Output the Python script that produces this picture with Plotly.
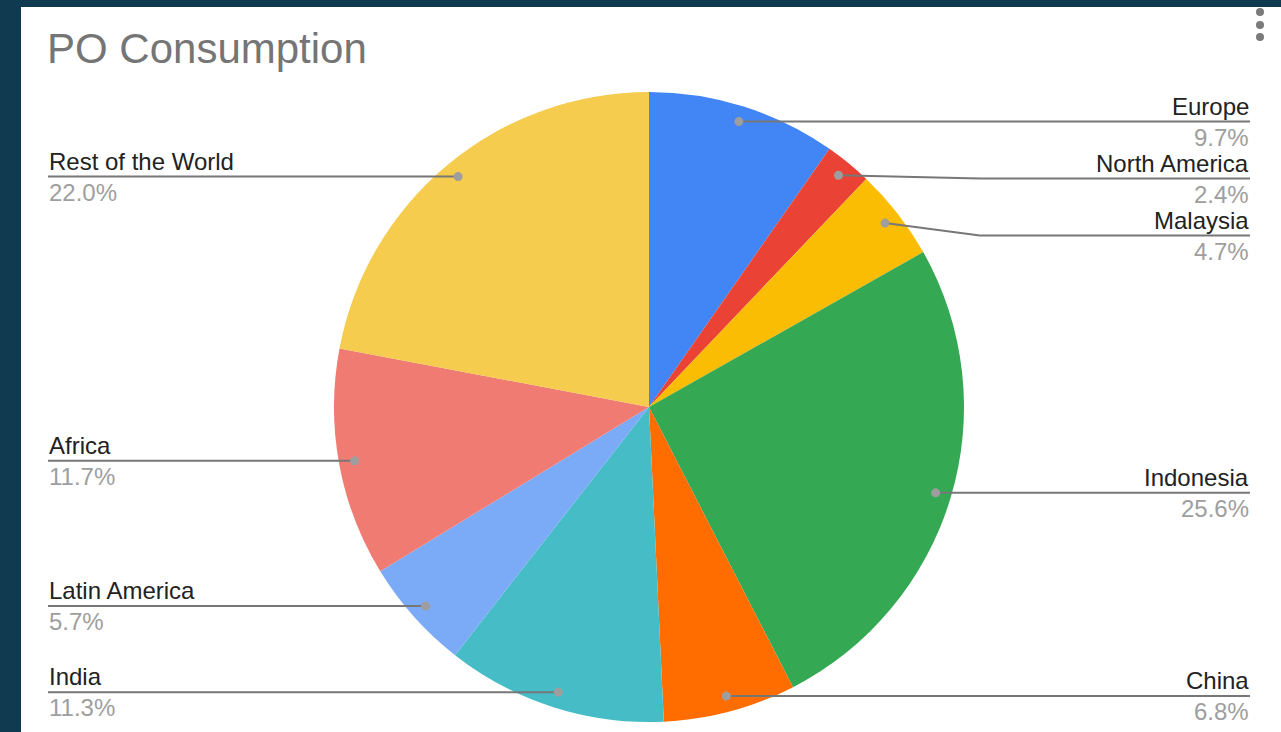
import math
import plotly.graph_objects as go

# ---- data ----
labels = ["Europe", "North America", "Malaysia", "Indonesia", "China",
          "India", "Latin America", "Africa", "Rest of the World"]
values = [9.7, 2.4, 4.7, 25.6, 6.8, 11.3, 5.7, 11.7, 22.0]
pct_text = ["9.7%", "2.4%", "4.7%", "25.6%", "6.8%", "11.3%", "5.7%", "11.7%", "22.0%"]
colors = ["#4285F4", "#EA4335", "#FBBC04", "#34A853", "#FF6D01",
          "#46BDC6", "#7BAAF7", "#F07B72", "#F6CC4E"]
title_text = "PO Consumption"

# ---- layout constants (pixels) ----
W, H = 1281, 732
cx, cy, R = 649, 407, 315
DOT_R = 0.95
GAP = 57
RIGHT_X, LEFT_X = 1250, 48
FONT = "Arial, Liberation Sans, sans-serif"
BG = "#0F3A4F"
LABEL_SIZE = 24

fig = go.Figure()
fig.add_trace(go.Pie(
    labels=labels, values=values, sort=False, direction="clockwise", rotation=0,
    marker=dict(colors=colors, line=dict(width=0)),
    textinfo="none", hoverinfo="label+percent", showlegend=False,
    domain=dict(x=[(cx - R) / W, (cx + R) / W], y=[1 - (cy + R) / H, 1 - (cy - R) / H]),
))
# invisible scatter to create the pixel-mapped axes
fig.add_trace(go.Scatter(x=[0, W], y=[0, H], mode="markers",
                         marker=dict(opacity=0), hoverinfo="skip", showlegend=False))

total = sum(values)
cum = 0.0
items = []
for lab, v, pt in zip(labels, values, pct_text):
    th = 2 * math.pi * (cum + v / 2) / total
    cum += v
    dx = cx + DOT_R * R * math.sin(th)
    dy = cy - DOT_R * R * math.cos(th)
    items.append(dict(label=lab, pct=pt, dx=dx, dy=dy, right=math.sin(th) > 0))

shapes = [dict(type="rect", xref="x", yref="y", x0=21, x1=W, y0=7, y1=H,
               fillcolor="white", line=dict(width=0), layer="below")]
annotations = []
for side in (True, False):
    grp = sorted([it for it in items if it["right"] == side], key=lambda d: d["dy"])
    prev = -1e9
    for it in grp:
        ly = max(it["dy"], prev + GAP)
        prev = ly
        edge = RIGHT_X if side else LEFT_X
        bend = cx + 1.05 * R if side else cx - 1.05 * R
        if abs(ly - it["dy"]) > 1:
            path = f"M{it['dx']},{it['dy']} L{bend},{ly} L{edge},{ly}"
        else:
            path = f"M{it['dx']},{ly} L{edge},{ly}"
        shapes.append(dict(type="path", xref="x", yref="y", path=path,
                           line=dict(color="#777777", width=2), layer="above"))
        shapes.append(dict(type="circle", xref="x", yref="y",
                           x0=it["dx"] - 4.5, x1=it["dx"] + 4.5,
                           y0=it["dy"] - 4.5, y1=it["dy"] + 4.5,
                           fillcolor="#9E9E9E", line=dict(width=0), layer="above"))
        anc = "right" if side else "left"
        annotations.append(dict(x=edge, y=ly - 1, xref="x", yref="y", text=it["label"],
                                showarrow=False, xanchor=anc, yanchor="bottom", borderpad=0,
                                font=dict(family=FONT, size=LABEL_SIZE, color="#222222")))
        annotations.append(dict(x=edge, y=ly + 1, xref="x", yref="y", text=it["pct"],
                                showarrow=False, xanchor=anc, yanchor="top", borderpad=0,
                                font=dict(family=FONT, size=LABEL_SIZE, color="#9E9E9E")))

annotations.append(dict(x=LEFT_X - 2, y=24, xref="x", yref="y", text=title_text,
                        showarrow=False, xanchor="left", yanchor="top", borderpad=0,
                        font=dict(family=FONT, size=42, color="#757575")))
# menu dots (top-right)
for yy in (12, 25, 37):
    shapes.append(dict(type="circle", xref="x", yref="y", x0=1256, x1=1264,
                       y0=yy - 4, y1=yy + 4, fillcolor="#7A7A7A",
                       line=dict(width=0), layer="above"))

fig.update_layout(
    width=W, height=H, margin=dict(l=0, r=0, t=0, b=0),
    paper_bgcolor=BG, plot_bgcolor="rgba(0,0,0,0)",
    xaxis=dict(range=[0, W], visible=False, fixedrange=True, domain=[0, 1]),
    yaxis=dict(range=[H, 0], visible=False, fixedrange=True, domain=[0, 1]),
    shapes=shapes, annotations=annotations, showlegend=False,
)
fig.write_html("out.html", config={"displayModeBar": False},
               post_script="document.body.style.margin='0';"
                           "document.body.style.background='" + BG + "';"
                           "document.body.style.overflow='hidden';")
